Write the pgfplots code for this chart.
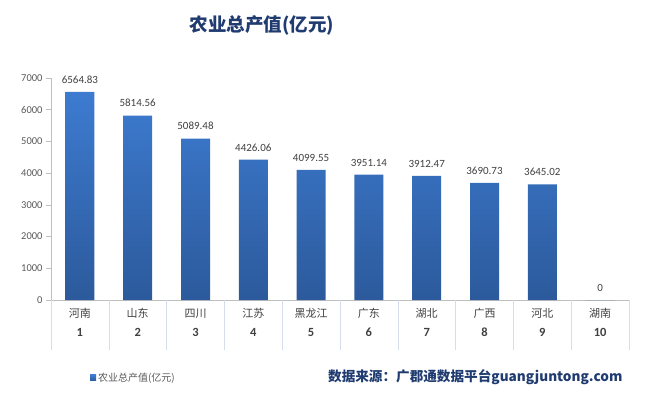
\documentclass[border=0pt]{standalone}
\usepackage{pgfplots}
\pgfplotsset{compat=1.18}
\usepackage{pgfplotstable}
\usepackage{fontspec}
\setmainfont{Carlito}
\newfontfamily\cjk{Noto Sans CJK SC}
\definecolor{barTop}{HTML}{3D7BD0}
\definecolor{barBot}{HTML}{2C5A9C}
\definecolor{axisgray}{HTML}{BFBFBF}
\definecolor{sepgray}{HTML}{D5DEEA}
\definecolor{labelgray}{HTML}{595959}
\definecolor{darkgray}{HTML}{404040}
\definecolor{navy}{HTML}{1F3B70}
\pgfplotstableread{
x y lab
1 6564.83 6564.83
2 5814.56 5814.56
3 5089.48 5089.48
4 4426.06 4426.06
5 4099.55 4099.55
6 3951.14 3951.14
7 3912.47 3912.47
8 3690.73 3690.73
9 3645.02 3645.02
10 0 0
}\datatable
\newcommand{\num}[1]{\fontsize{12.5}{14}\selectfont\bfseries #1}
\begin{document}
\begin{tikzpicture}
\path[use as bounding box] (-51pt,-97pt) rectangle (609pt,300pt);
\begin{axis}[
  at={(0pt,0pt)}, anchor=south west,
  scale only axis, width=578pt, height=222pt,
  xmin=0.5, xmax=10.5, ymin=0, ymax=7000,
  axis lines*=left,
  axis line style={draw=axisgray, line width=0.6pt},
  ybar, bar width=29pt,
  xtick={1,...,10},
  xticklabels={{{\cjk 河南}\\[6pt]\num{1}},{{\cjk 山东}\\[6pt]\num{2}},{{\cjk 四川}\\[6pt]\num{3}},{{\cjk 江苏}\\[6pt]\num{4}},{{\cjk 黑龙江}\\[6pt]\num{5}},{{\cjk 广东}\\[6pt]\num{6}},{{\cjk 湖北}\\[6pt]\num{7}},{{\cjk 广西}\\[6pt]\num{8}},{{\cjk 河北}\\[6pt]\num{9}},{{\cjk 湖南}\\[6pt]\num{10}}},
  xticklabel style={align=center, font=\fontsize{11}{13}\selectfont, text=darkgray},
  xtick style={draw=none},
  extra x ticks={0.5,1.5,...,10.5},
  extra x tick labels={},
  extra x tick style={xtick style={draw=sepgray, line width=0.6pt}, major tick length=50pt, tick align=outside},
  ytick={0,1000,...,7000},
  ytick style={draw=axisgray, line width=0.6pt},
  tick align=outside, major tick length=5pt,
  yticklabel style={font=\fontsize{10.5}{12}\selectfont, text=labelgray},
  /pgf/number format/assume math mode=true,
  scaled y ticks=false,
  y tick label style={/pgf/number format/.cd, 1000 sep={}},
  nodes near coords,
  point meta=explicit symbolic,
  every node near coord/.append style={font=\fontsize{11}{13}\selectfont, text=darkgray, yshift=5pt},
  legend style={at={(0.062,-0.351)}, anchor=west, draw=none, fill=none,
    font=\cjk\fontsize{10}{12}\selectfont, text=labelgray, legend cell align=left},
  legend image code/.code={\fill[barBot] (0pt,-3pt) rectangle (6pt,3pt);},
]
\addplot[draw=none, top color=barTop, bottom color=barBot] table[x=x, y=y, meta=lab] {\datatable};
\addlegendentry{农业总产值(亿元)}
\end{axis}
\node[font=\cjk\bfseries\fontsize{18.5}{22}\selectfont, text=navy] at (211pt,275pt) {农业总产值(亿元)};
\node[font=\cjk\bfseries\fontsize{13.6}{16}\selectfont, text=navy, anchor=east] at (575pt,-77pt) {数据来源：广郡通数据平台guangjuntong.com};
\end{tikzpicture}
\end{document}
